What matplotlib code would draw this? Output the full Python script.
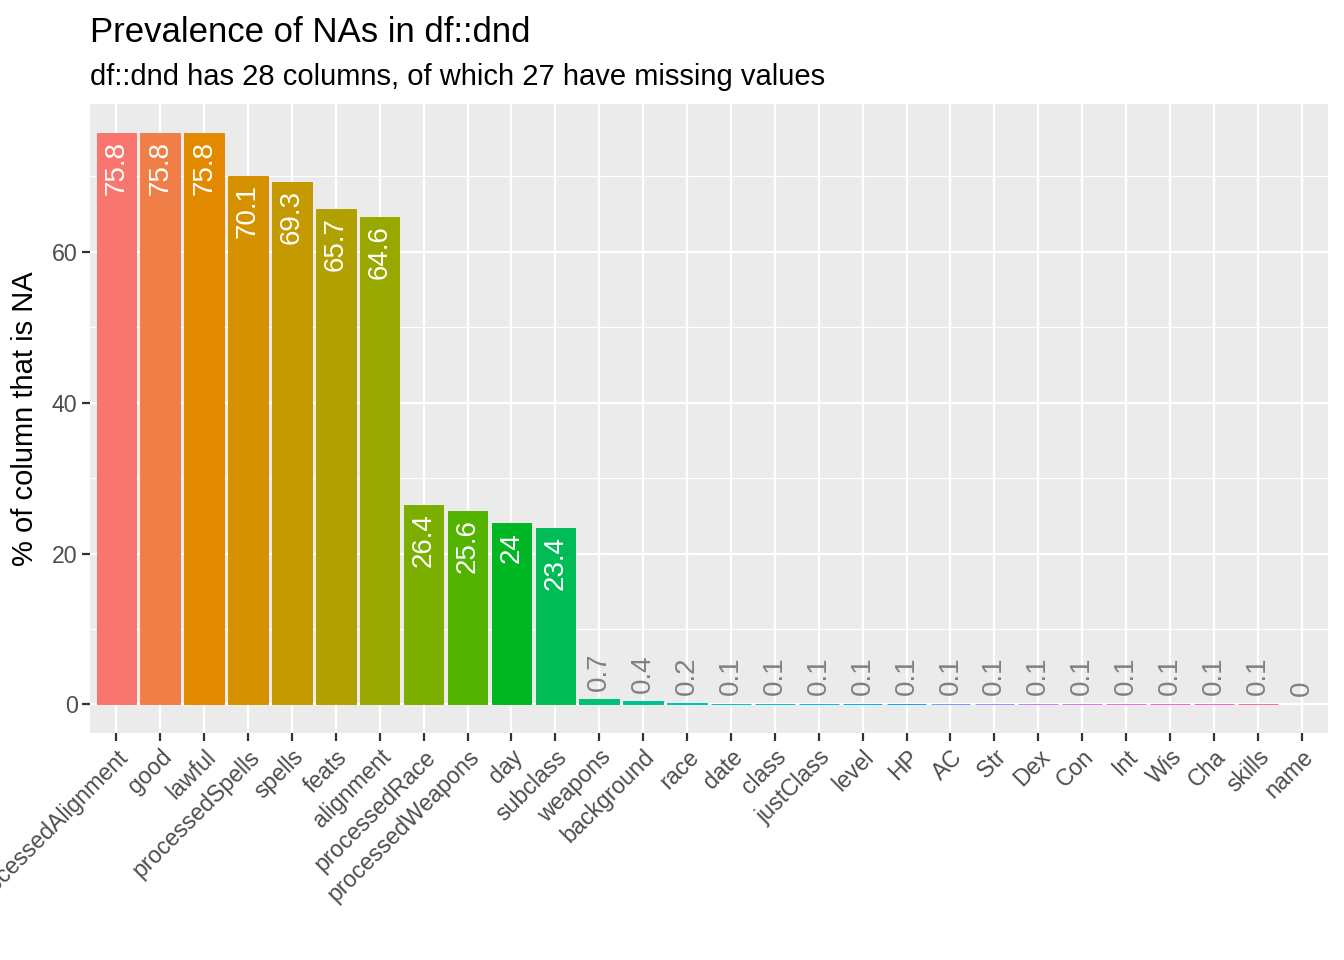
import numpy as np
import matplotlib
matplotlib.use('Agg')
import matplotlib.pyplot as plt
from matplotlib.ticker import MultipleLocator

plt.rcParams['font.family'] = ['Liberation Sans', 'DejaVu Sans']

# Data
columns = ['processedAlignment', 'good', 'lawful', 'processedSpells', 'spells',
           'feats', 'alignment', 'processedRace', 'processedWeapons', 'day',
           'subclass', 'weapons', 'background', 'race', 'date', 'class',
           'justClass', 'level', 'HP', 'AC', 'Str', 'Dex', 'Con', 'Int', 'Wis',
           'Cha', 'skills', 'name']
pct_na = [75.8, 75.8, 75.8, 70.1, 69.3, 65.7, 64.6, 26.4, 25.6, 24, 23.4,
          0.7, 0.4, 0.2, 0.1, 0.1, 0.1, 0.1, 0.1, 0.1, 0.1, 0.1, 0.1, 0.1,
          0.1, 0.1, 0.1, 0]
labels = ['75.8', '75.8', '75.8', '70.1', '69.3', '65.7', '64.6', '26.4',
          '25.6', '24', '23.4', '0.7', '0.4', '0.2', '0.1', '0.1', '0.1',
          '0.1', '0.1', '0.1', '0.1', '0.1', '0.1', '0.1', '0.1', '0.1',
          '0.1', '0']


def hue_pal(n, l=65, c=100, h0=15, h1=375):
    """ ggplot2 style hue palette via polar LUV -> sRGB """
    hues = np.linspace(h0, h1, n + 1)[:n]
    Xn, Yn, Zn = 95.047, 100.0, 108.883
    un = 4 * Xn / (Xn + 15 * Yn + 3 * Zn)
    vn = 9 * Yn / (Xn + 15 * Yn + 3 * Zn)
    out = []
    for h in hues:
        u = c * np.cos(np.radians(h))
        v = c * np.sin(np.radians(h))
        Y = Yn * ((l + 16) / 116) ** 3
        up = u / (13 * l) + un
        vp = v / (13 * l) + vn
        X = Y * 9 * up / (4 * vp)
        Z = Y * (12 - 3 * up - 20 * vp) / (4 * vp)
        xyz = np.array([X, Y, Z]) / 100
        m = np.array([[3.2404542, -1.5371385, -0.4985314],
                      [-0.9692660, 1.8760108, 0.0415560],
                      [0.0556434, -0.2040259, 1.0572252]])
        rgb = m @ xyz
        rgb = np.where(rgb <= 0.0031308, 12.92 * rgb,
                       1.055 * np.clip(rgb, 0, None) ** (1 / 2.4) - 0.055)
        out.append(tuple(np.clip(rgb, 0, 1)))
    return out


colors = hue_pal(len(columns))
x = np.arange(len(columns))

fig = plt.figure(figsize=(13.44, 9.6), dpi=100)
ax = fig.add_axes([90 / 1344, 1 - 733 / 960, 1238 / 1344, 629 / 960])
ax.set_facecolor('#EBEBEB')

# thin same-colour edge so the 0.1 bars still show as a line (none for 0)
edge_lw = [0.7 if v > 0 else 0 for v in pct_na]
ax.bar(x, pct_na, width=0.9, color=colors, edgecolor=colors, lw=edge_lw,
       zorder=3)

for xi, v, lab in zip(x, pct_na, labels):
    if v > 10:
        ax.annotate(lab, (xi, v), xytext=(0, -6), textcoords='offset points',
                    rotation=90, ha='center', va='top', color='white',
                    fontsize=20, zorder=4)
    else:
        ax.annotate(lab, (xi, v), xytext=(0, 6), textcoords='offset points',
                    rotation=90, ha='center', va='bottom', color='#808080',
                    fontsize=20, zorder=4)

ax.set_xlim(-0.6, len(columns) - 0.4)
ax.set_ylim(-0.05 * max(pct_na), 1.05 * max(pct_na))
ax.set_xticks(x)
ax.set_xticklabels(columns, rotation=45, ha='right', va='top',
                   rotation_mode='anchor')
ax.yaxis.set_major_locator(MultipleLocator(20))
ax.yaxis.set_minor_locator(MultipleLocator(10))

ax.grid(which='major', color='white', lw=1.6, zorder=1)
ax.grid(which='minor', axis='y', color='white', lw=0.8, zorder=1)
for s in ax.spines.values():
    s.set_visible(False)
ax.tick_params(which='major', length=6, width=1.6, color='#333333',
               labelsize=16.7, labelcolor='#4D4D4D', pad=3)
ax.tick_params(which='minor', length=0)

ax.set_ylabel('% of column that is NA', fontsize=21, labelpad=9)
fig.text(90 / 1344, 1 - 42 / 960, 'Prevalence of NAs in df::dnd',
         fontsize=25, ha='left', va='baseline')
fig.text(90 / 1344, 1 - 85 / 960,
         'df::dnd has 28 columns, of which 27 have missing values',
         fontsize=21, ha='left', va='baseline')

fig.savefig('out.png', dpi=100)
